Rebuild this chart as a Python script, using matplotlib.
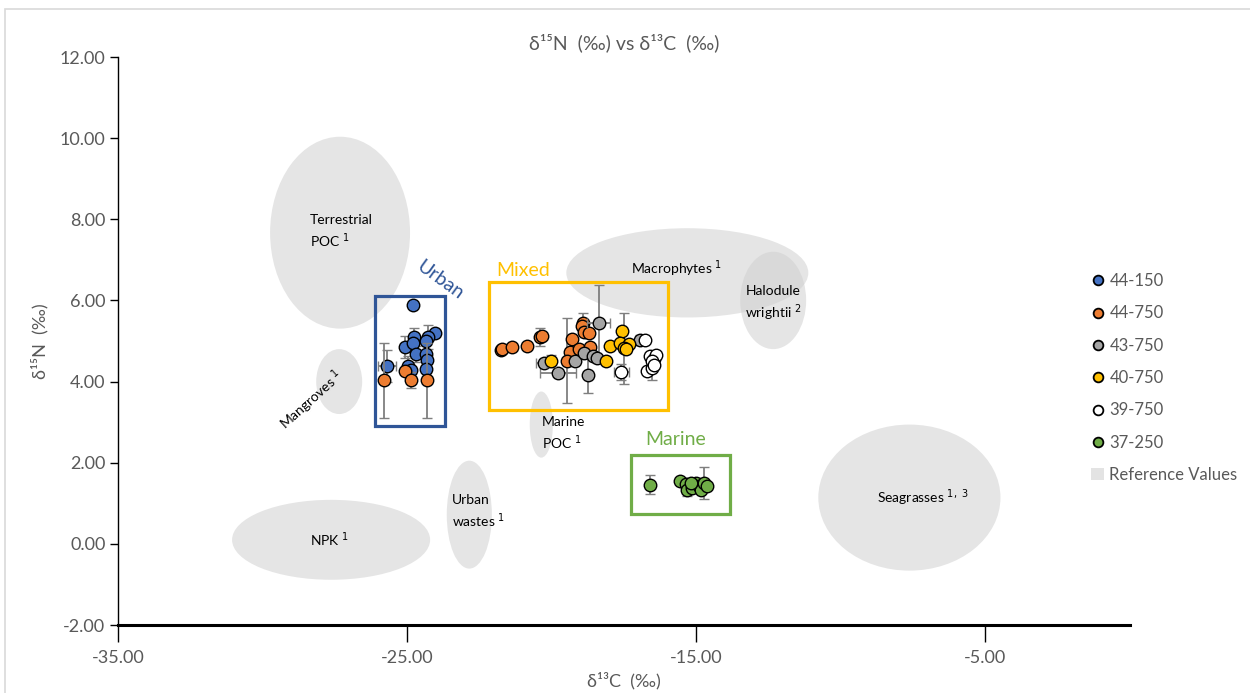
import matplotlib.pyplot as plt
from matplotlib.patches import Ellipse, Rectangle, Patch
from matplotlib.lines import Line2D

plt.rcParams['font.family'] = ['Lato', 'DejaVu Sans']

GREY_TXT = '#595959'

# --- sample series (d13C, d15N, x error, y error) ---
s44_150_x = [-24.80, -25.70, -24.77, -25.06, -24.80, -24.05, -24.28, -24.36, -24.71, -24.34, -24.32, -24.34, -24.98, -24.86]
s44_150_y = [5.89, 4.39, 5.11, 4.85, 4.96, 5.19, 5.10, 4.99, 4.68, 4.68, 4.54, 4.32, 4.39, 4.29]
s44_150_xe = [0, 0.30, 0, 0, 0, 0, 0, 0, 0, 0, 0, 0, 0, 0]
s44_150_ye = [0, 0.39, 0.22, 0.28, 0, 0, 0.30, 0, 0.20, 0, 0, 0, 0.25, 0]

s44_750_x = [-25.79, -25.06, -24.86, -24.31,
             -21.77, -21.71, -21.36, -20.84, -20.41, -20.35, -19.31, -18.93, -18.96,
             -18.90, -18.70, -19.37, -19.46, -19.04, -18.67]
s44_750_y = [4.03, 4.27, 4.03, 4.03,
             4.78, 4.80, 4.85, 4.88, 5.10, 5.13, 5.05, 5.44, 5.36,
             5.23, 5.19, 4.73, 4.51, 4.80, 4.84]
s44_750_xe = [0] * 19
s44_750_ye = [0.92, 0, 0.20, 0.92,
              0, 0.10, 0.08, 0, 0.23, 0, 0, 0.26, 0,
              0, 0, 0, 1.05, 0, 0]

s43_750_x = [-18.38, -20.25, -19.79, -19.21, -18.90, -18.58, -18.75, -18.44, -16.93]
s43_750_y = [5.44, 4.46, 4.21, 4.51, 4.70, 4.62, 4.17, 4.57, 5.03]
s43_750_xe = [0.40, 0.29, 0.62, 0, 0, 0, 0, 0, 0]
s43_750_ye = [0.95, 0.10, 0, 0, 0, 0, 0.45, 0, 0.12]

s40_750_x = [-20.03, -17.98, -17.57, -17.63, -17.34, -17.51, -17.42, -18.12]
s40_750_y = [4.51, 4.88, 5.25, 4.96, 4.93, 4.82, 4.80, 4.51]
s40_750_xe = [0] * 8
s40_750_ye = [0.15, 0, 0, 0, 0, 0.88, 0, 0]

s39_750_x = [-16.78, -17.59, -16.70, -16.53, -16.59, -16.47, -16.41, -16.53, -16.45]
s39_750_y = [5.03, 4.23, 4.25, 4.33, 4.62, 4.55, 4.66, 4.50, 4.41]
s39_750_xe = [0, 0.25, 0, 0, 0, 0, 0, 0, 0]
s39_750_ye = [0, 0.20, 0, 0.28, 0, 0, 0, 0, 0]

s37_250_x = [-16.59, -15.58, -15.37, -15.31, -15.14, -15.02, -14.91, -14.85, -14.73, -14.62, -15.20]
s37_250_y = [1.46, 1.54, 1.48, 1.33, 1.38, 1.50, 1.43, 1.32, 1.50, 1.43, 1.50]
s37_250_xe = [0] * 11
s37_250_ye = [0.23, 0, 0.12, 0.15, 0, 0.12, 0.15, 0, 0.40, 0, 0]

series = [
    ('44-150', s44_150_x, s44_150_y, s44_150_xe, s44_150_ye, '#4472C4'),
    ('44-750', s44_750_x, s44_750_y, s44_750_xe, s44_750_ye, '#ED7D31'),
    ('43-750', s43_750_x, s43_750_y, s43_750_xe, s43_750_ye, '#A5A5A5'),
    ('40-750', s40_750_x, s40_750_y, s40_750_xe, s40_750_ye, '#FFC000'),
    ('39-750', s39_750_x, s39_750_y, s39_750_xe, s39_750_ye, '#FFFFFF'),
    ('37-250', s37_250_x, s37_250_y, s37_250_xe, s37_250_ye, '#70AD47'),
]

# --- reference value ellipses: label, cx, cy, width, height, label x, label y ---
ref_names = ['Terrestrial\nPOC $^{1}$', 'Mangroves $^{1}$', 'NPK $^{1}$', 'Urban\nwastes $^{1}$',
             'Marine\nPOC $^{1}$', 'Macrophytes $^{1}$', 'Halodule\nwrightii $^{2}$', 'Seagrasses $^{1,\\ 3}$']
ref_cx = [-27.32, -27.35, -27.63, -22.85, -20.36, -15.31, -12.34, -7.63]
ref_cy = [7.67, 4.00, 0.10, 0.72, 2.94, 6.68, 6.00, 1.14]
ref_w = [4.84, 1.59, 6.85, 1.56, 0.80, 8.37, 2.28, 6.30]
ref_h = [4.73, 1.60, 1.97, 2.66, 1.63, 2.20, 2.40, 3.60]
ref_lx = [-28.36, -28.30, -28.36, -23.45, -20.33, -17.25, -13.30, -8.74]
ref_ly = [7.68, 3.55, 0.10, 0.78, 2.71, 6.78, 5.92, 1.14]
ref_rot = [0, 42, 0, 0, 0, 0, 0, 0]

# --- group boxes: name, x0, x1, y0, y1, colour, label x, label y, label rotation ---
grp_names = ['Urban', 'Mixed', 'Marine']
grp_x0 = [-26.11, -22.16, -17.25]
grp_x1 = [-23.69, -15.97, -13.82]
grp_y0 = [2.91, 3.31, 0.74]
grp_y1 = [6.11, 6.46, 2.20]
grp_col = ['#2F5597', '#FFC000', '#70AD47']
grp_lx = [-23.86, -21.92, -16.76]
grp_ly = [6.51, 6.75, 2.57]
grp_rot = [-36, 0, 0]

fig = plt.figure(figsize=(12.5, 6.93), dpi=100)
ax = fig.add_axes([118 / 1250, 1 - 625 / 693, (1130 - 118) / 1250, (625 - 57) / 693])

# chart-area border
fig.patches.append(Rectangle((0.004, -0.01), 1.2, 0.997, transform=fig.transFigure,
                             fill=False, edgecolor='#D9D9D9', linewidth=1.2))

for cx, cy, w, h in zip(ref_cx, ref_cy, ref_w, ref_h):
    ax.add_patch(Ellipse((cx, cy), w, h, facecolor='#D0D0D0', alpha=0.55, edgecolor='none', zorder=1))
for name, lx, ly, rot in zip(ref_names, ref_lx, ref_ly, ref_rot):
    ha = 'center' if rot else 'left'
    ax.text(lx, ly, name, fontsize=10, color='black', ha=ha, va='center', rotation=rot,
            linespacing=1.35, zorder=2)

for name, x0, x1, y0, y1, col, lx, ly, rot in zip(grp_names, grp_x0, grp_x1, grp_y0, grp_y1,
                                                  grp_col, grp_lx, grp_ly, grp_rot):
    ax.add_patch(Rectangle((x0, y0), x1 - x0, y1 - y0, fill=False, edgecolor=col, linewidth=2.3, zorder=2))
    if rot:
        ax.text(lx, ly, name, fontsize=14, color=col, ha='center', va='center', rotation=rot, zorder=2)
    else:
        ax.text(lx, ly, name, fontsize=14, color=col, ha='left', va='center', zorder=2)

handles = []
for i, (lab, xs, ys, xe, ye, col) in enumerate(series):
    ax.errorbar(xs, ys, xerr=xe, yerr=ye, fmt='o', markersize=9, markerfacecolor=col,
                markeredgecolor='black', markeredgewidth=1.0, ecolor='#7F7F7F', elinewidth=1.3,
                capsize=3.5, capthick=1.3, zorder=3 + i)
    handles.append(Line2D([], [], linestyle='none', marker='o', markersize=7, markerfacecolor=col,
                          markeredgecolor='black', markeredgewidth=1.3, label=lab))
handles.append(Patch(facecolor='#E3E3E3', edgecolor='none', label='Reference Values'))

ax.set_xlim(-35, 0)
ax.set_ylim(-2, 12)
ax.set_xticks([-35, -25, -15, -5])
ax.set_yticks([-2, 0, 2, 4, 6, 8, 10, 12])
ax.xaxis.set_major_formatter(plt.FormatStrFormatter('%.2f'))
ax.yaxis.set_major_formatter(plt.FormatStrFormatter('%.2f'))
ax.tick_params(axis='x', direction='out', length=12, width=1, colors='black', labelcolor=GREY_TXT,
               labelsize=13, pad=6)
ax.tick_params(axis='y', direction='out', length=6, width=1, colors='black', labelcolor=GREY_TXT,
               labelsize=13, pad=3)
for s in ['top', 'right']:
    ax.spines[s].set_visible(False)
ax.spines['bottom'].set_linewidth(2.2)
ax.spines['left'].set_linewidth(1.0)
ax.patch.set_alpha(0)

ax.set_title('δ¹⁵N  (‰) vs δ¹³C  (‰)', fontsize=14, color=GREY_TXT, pad=6)
ax.set_xlabel('δ¹³C  (‰)', fontsize=13, color=GREY_TXT, labelpad=4)
ax.set_ylabel('δ¹⁵N  (‰)', fontsize=13, color=GREY_TXT, labelpad=8)

leg = fig.legend(handles=handles, loc='upper left', bbox_to_anchor=(1076 / 1250, 1 - 258 / 693),
                 frameon=False, fontsize=12, labelspacing=0.98, handlelength=0.8, handletextpad=0.3)
for t in leg.get_texts():
    t.set_color(GREY_TXT)

fig.savefig('out.png', dpi=100)
